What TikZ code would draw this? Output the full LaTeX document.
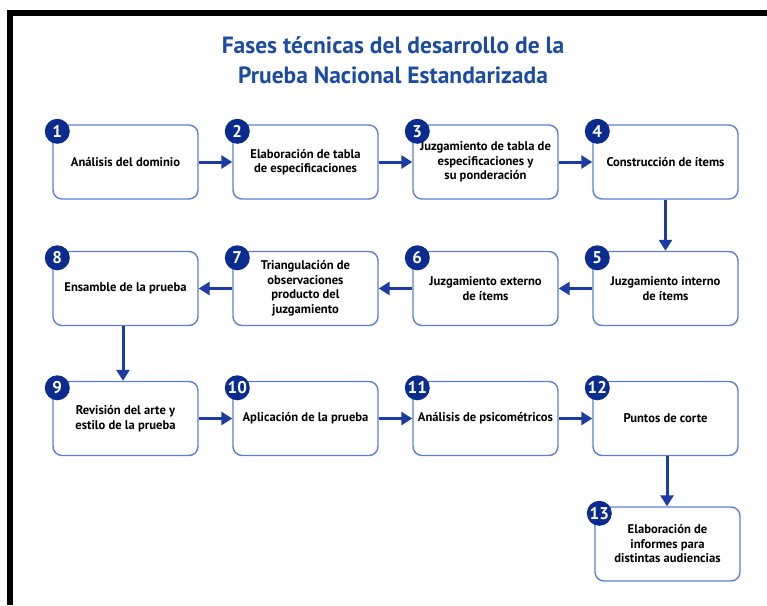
\documentclass[tikz,border=0pt]{standalone}
\usepackage{fontspec}
\setmainfont{PT Sans}
\usetikzlibrary{arrows.meta,calc}
\definecolor{navy}{HTML}{0B2C8E}
\definecolor{boxblue}{HTML}{5B80D2}
\definecolor{arrowblue}{HTML}{1B3DA3}
\definecolor{titleblue}{HTML}{1C4CA2}
\tikzset{
  box/.style={draw=boxblue, line width=1.4pt, rounded corners=9pt, minimum width=145pt, minimum height=74pt, align=center, fill=white, inner sep=2pt, font=\bfseries\fontsize{12.6}{14.5}\selectfont},
  num/.style={circle, fill=navy, text=white, minimum size=25pt, inner sep=0pt, font=\bfseries\fontsize{17}{17}\selectfont},
  arr/.style={draw=arrowblue, line width=3pt, -{Triangle[length=11pt,width=13pt]}},
  ttl/.style={text=titleblue, font=\bfseries\fontsize{23.5}{29.5}\selectfont, align=center}
}
\begin{document}
\begin{tikzpicture}[x=1pt,y=-1pt]
\useasboundingbox (0,0) rectangle (767,605);
\fill[white] (0,0) rectangle (767,605);
\draw[line width=6pt, line cap=butt] (10,605) -- (10,13) -- (767,13);
\node[ttl] (title) at (393,60) {Fases técnicas del desarrollo de la\\Prueba Nacional Estandarizada};
% row 1
\node[box] (b1) at (125.5,162) {Análisis del dominio};
\node[box] (b2) at (305.5,162) {Elaboración de tabla\\de especificaciones};
\node[box] (b3) at (485.5,162) {Juzgamiento de tabla de\\especificaciones y\\su ponderación};
\node[box] (b4) at (665.5,162) {Construcción de ítems};
% row 2
\node[box] (b8) at (125.5,288.5) {Ensamble de la prueba};
\node[box] (b7) at (305.5,288.5) {Triangulación de\\observaciones\\producto del\\juzgamiento};
\node[box] (b6) at (485.5,288.5) {Juzgamiento externo\\de ítems};
\node[box] (b5) at (665.5,288.5) {Juzgamiento interno\\de ítems};
% row 3
\node[box] (b9) at (125.5,418.5) {Revisión del arte y\\estilo de la prueba};
\node[box] (b10) at (305.5,418.5) {Aplicación de la prueba};
\node[box] (b11) at (485.5,418.5) {Análisis de psicométricos};
\node[box] (b12) at (665.5,418.5) {Puntos de corte};
% row 4
\node[box] (b13) at (667.5,544) {Elaboración de\\informes para\\distintas audiencias};
% numbers
\foreach \i in {1,...,13}{
  \node[num] (n\i) at ($(b\i.north west)+(5,7)$) {\i};
}
% arrows
\draw[arr] (b1) -- (b2);
\draw[arr] (b2) -- (b3);
\draw[arr] (b3) -- (b4);
\draw[arr] (b4) -- (b5);
\draw[arr] (b5) -- (b6);
\draw[arr] (b6) -- (b7);
\draw[arr] (b7) -- (b8);
\draw[arr] (b8.south -| 123,0) -- (b9.north -| 123,0);
\draw[arr] (b9) -- (b10);
\draw[arr] (b10) -- (b11);
\draw[arr] (b11) -- (b12);
\draw[arr] (b12.south -| 667,0) -- (b13.north -| 667,0);
\end{tikzpicture}
\end{document}
